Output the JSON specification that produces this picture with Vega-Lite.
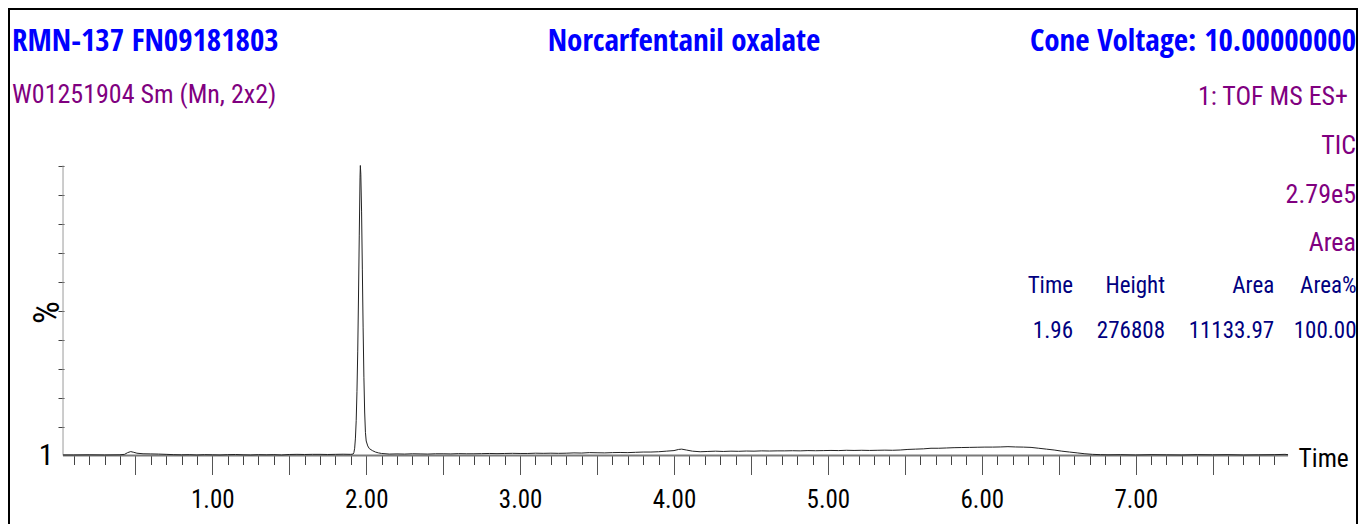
{
  "$schema": "https://vega.github.io/schema/vega-lite/v6.json",
  "width": 1348,
  "height": 520,
  "autosize": {"type": "none"},
  "padding": {"left": 9, "top": 9, "right": 4, "bottom": 0},
  "background": "white",
  "config": {
    "font": "Roboto Condensed",
    "view": {"stroke": "black", "strokeWidth": 2}
  },
  "datasets": {
    "tic": [
      {"time": 0.03, "intensity": 0.2}, {"time": 0.1, "intensity": 0.2}, {"time": 0.2, "intensity": 0.25},
      {"time": 0.3, "intensity": 0.2}, {"time": 0.4, "intensity": 0.25}, {"time": 0.43, "intensity": 0.4},
      {"time": 0.45, "intensity": 1.0}, {"time": 0.47, "intensity": 1.35}, {"time": 0.49, "intensity": 1.1},
      {"time": 0.51, "intensity": 0.8}, {"time": 0.55, "intensity": 0.6}, {"time": 0.6, "intensity": 0.55},
      {"time": 0.65, "intensity": 0.5}, {"time": 0.7, "intensity": 0.4}, {"time": 0.75, "intensity": 0.3},
      {"time": 0.8, "intensity": 0.25}, {"time": 0.85, "intensity": 0.3}, {"time": 0.9, "intensity": 0.2},
      {"time": 0.95, "intensity": 0.3}, {"time": 1.0, "intensity": 0.25}, {"time": 1.05, "intensity": 0.2},
      {"time": 1.1, "intensity": 0.3}, {"time": 1.15, "intensity": 0.35}, {"time": 1.2, "intensity": 0.25},
      {"time": 1.25, "intensity": 0.2}, {"time": 1.3, "intensity": 0.3}, {"time": 1.35, "intensity": 0.25},
      {"time": 1.4, "intensity": 0.3}, {"time": 1.45, "intensity": 0.2}, {"time": 1.5, "intensity": 0.35},
      {"time": 1.55, "intensity": 0.4}, {"time": 1.6, "intensity": 0.35}, {"time": 1.65, "intensity": 0.4},
      {"time": 1.7, "intensity": 0.4}, {"time": 1.75, "intensity": 0.35}, {"time": 1.8, "intensity": 0.4},
      {"time": 1.85, "intensity": 0.45}, {"time": 1.9, "intensity": 0.4}, {"time": 1.915, "intensity": 0.5},
      {"time": 1.92, "intensity": 1.0}, {"time": 1.925, "intensity": 2.5}, {"time": 1.93, "intensity": 6},
      {"time": 1.935, "intensity": 12}, {"time": 1.94, "intensity": 22}, {"time": 1.945, "intensity": 36},
      {"time": 1.95, "intensity": 55}, {"time": 1.955, "intensity": 76}, {"time": 1.96, "intensity": 96},
      {"time": 1.962, "intensity": 100}, {"time": 1.965, "intensity": 97}, {"time": 1.97, "intensity": 84},
      {"time": 1.975, "intensity": 64}, {"time": 1.98, "intensity": 44}, {"time": 1.985, "intensity": 27},
      {"time": 1.99, "intensity": 15}, {"time": 1.995, "intensity": 8}, {"time": 2.0, "intensity": 5},
      {"time": 2.01, "intensity": 3.3}, {"time": 2.02, "intensity": 2.4}, {"time": 2.04, "intensity": 1.7},
      {"time": 2.06, "intensity": 1.2}, {"time": 2.08, "intensity": 0.9}, {"time": 2.1, "intensity": 0.7},
      {"time": 2.15, "intensity": 0.5}, {"time": 2.2, "intensity": 0.55}, {"time": 2.25, "intensity": 0.5},
      {"time": 2.3, "intensity": 0.6}, {"time": 2.35, "intensity": 0.55}, {"time": 2.4, "intensity": 0.5},
      {"time": 2.45, "intensity": 0.6}, {"time": 2.5, "intensity": 0.6}, {"time": 2.55, "intensity": 0.55},
      {"time": 2.6, "intensity": 0.65}, {"time": 2.65, "intensity": 0.6}, {"time": 2.7, "intensity": 0.6},
      {"time": 2.75, "intensity": 0.65}, {"time": 2.8, "intensity": 0.7}, {"time": 2.85, "intensity": 0.65},
      {"time": 2.9, "intensity": 0.7}, {"time": 2.95, "intensity": 0.75}, {"time": 3.0, "intensity": 0.7},
      {"time": 3.05, "intensity": 0.7}, {"time": 3.1, "intensity": 0.8}, {"time": 3.15, "intensity": 0.75},
      {"time": 3.2, "intensity": 0.8}, {"time": 3.25, "intensity": 0.75}, {"time": 3.3, "intensity": 0.8},
      {"time": 3.35, "intensity": 0.9}, {"time": 3.4, "intensity": 0.85}, {"time": 3.45, "intensity": 1.0},
      {"time": 3.5, "intensity": 0.95}, {"time": 3.55, "intensity": 0.9}, {"time": 3.6, "intensity": 1.0},
      {"time": 3.65, "intensity": 1.05}, {"time": 3.7, "intensity": 1.0}, {"time": 3.75, "intensity": 1.1},
      {"time": 3.8, "intensity": 1.2}, {"time": 3.85, "intensity": 1.2}, {"time": 3.9, "intensity": 1.3},
      {"time": 3.95, "intensity": 1.5}, {"time": 4.0, "intensity": 1.7}, {"time": 4.03, "intensity": 2.1},
      {"time": 4.05, "intensity": 2.2}, {"time": 4.08, "intensity": 1.9}, {"time": 4.12, "intensity": 1.5},
      {"time": 4.17, "intensity": 1.3}, {"time": 4.22, "intensity": 1.4}, {"time": 4.27, "intensity": 1.5},
      {"time": 4.32, "intensity": 1.4}, {"time": 4.37, "intensity": 1.5}, {"time": 4.42, "intensity": 1.45},
      {"time": 4.47, "intensity": 1.55}, {"time": 4.52, "intensity": 1.5}, {"time": 4.57, "intensity": 1.6},
      {"time": 4.62, "intensity": 1.55}, {"time": 4.67, "intensity": 1.6}, {"time": 4.72, "intensity": 1.6},
      {"time": 4.77, "intensity": 1.65}, {"time": 4.82, "intensity": 1.6}, {"time": 4.87, "intensity": 1.7},
      {"time": 4.92, "intensity": 1.65}, {"time": 4.97, "intensity": 1.7}, {"time": 5.02, "intensity": 1.75},
      {"time": 5.07, "intensity": 1.7}, {"time": 5.12, "intensity": 1.8}, {"time": 5.17, "intensity": 1.75},
      {"time": 5.22, "intensity": 1.8}, {"time": 5.27, "intensity": 1.75}, {"time": 5.32, "intensity": 1.8},
      {"time": 5.37, "intensity": 1.85}, {"time": 5.42, "intensity": 1.8}, {"time": 5.47, "intensity": 1.9},
      {"time": 5.52, "intensity": 2.1}, {"time": 5.57, "intensity": 2.2}, {"time": 5.62, "intensity": 2.3},
      {"time": 5.67, "intensity": 2.5}, {"time": 5.72, "intensity": 2.5}, {"time": 5.77, "intensity": 2.6},
      {"time": 5.82, "intensity": 2.7}, {"time": 5.87, "intensity": 2.75}, {"time": 5.92, "intensity": 2.8},
      {"time": 5.97, "intensity": 2.85}, {"time": 6.02, "intensity": 2.9}, {"time": 6.07, "intensity": 2.9},
      {"time": 6.12, "intensity": 2.95}, {"time": 6.17, "intensity": 3.05}, {"time": 6.22, "intensity": 2.95},
      {"time": 6.27, "intensity": 2.9}, {"time": 6.32, "intensity": 2.8}, {"time": 6.37, "intensity": 2.5},
      {"time": 6.42, "intensity": 2.2}, {"time": 6.47, "intensity": 1.9}, {"time": 6.52, "intensity": 1.5},
      {"time": 6.57, "intensity": 1.2}, {"time": 6.62, "intensity": 0.9}, {"time": 6.67, "intensity": 0.6},
      {"time": 6.72, "intensity": 0.4}, {"time": 6.77, "intensity": 0.3}, {"time": 6.82, "intensity": 0.25},
      {"time": 6.9, "intensity": 0.3}, {"time": 7.0, "intensity": 0.2}, {"time": 7.1, "intensity": 0.3},
      {"time": 7.2, "intensity": 0.25}, {"time": 7.3, "intensity": 0.2}, {"time": 7.4, "intensity": 0.3},
      {"time": 7.5, "intensity": 0.25}, {"time": 7.6, "intensity": 0.3}, {"time": 7.7, "intensity": 0.2},
      {"time": 7.8, "intensity": 0.25}, {"time": 7.9, "intensity": 0.3}, {"time": 7.97, "intensity": 0.4},
      {"time": 7.99, "intensity": 0.3}
    ]
  },
  "layer": [
    {
      "data": {"name": "tic"},
      "mark": {"type": "rule", "color": "#7a7a7a", "strokeWidth": 2},
      "encoding": {
        "x": {
          "field": "time", "aggregate": "min", "type": "quantitative",
          "scale": {"domain": [-0.321, 8.438], "nice": false, "zero": false},
          "axis": {
            "orient": "bottom", "offset": -73.5, "domain": false, "grid": false,
            "values": [0.1,0.2,0.3,0.4,0.5,0.6,0.7,0.8,0.9,1.0,1.1,1.2,1.3,1.4,1.5,1.6,1.7,1.8,1.9,2.0,2.1,2.2,2.3,2.4,2.5,2.6,2.7,2.8,2.9,3.0,3.1,3.2,3.3,3.4,3.5,3.6,3.7,3.8,3.9,4.0,4.1,4.2,4.3,4.4,4.5,4.6,4.7,4.8,4.9,5.0,5.1,5.2,5.3,5.4,5.5,5.6,5.7,5.8,5.9,6.0,6.1,6.2,6.3,6.4,6.5,6.6,6.7,6.8,6.9,7.0,7.1,7.2,7.3,7.4,7.5,7.6,7.7,7.8,7.9],
            "tickSize": 9, "tickColor": "#444", "tickWidth": 1, "labels": false, "title": null
          }
        },
        "x2": {"field": "time", "aggregate": "max"},
        "y": {"datum": 0, "type": "quantitative", "axis": null}
      }
    },
    {
      "data": {"name": "tic"},
      "mark": {"type": "rule", "color": "#9a9a9a", "strokeWidth": 1},
      "encoding": {
        "x": {"field": "time", "aggregate": "min", "type": "quantitative", "axis": null},
        "y": {"datum": 0, "type": "quantitative", "axis": null},
        "y2": {"datum": 100}
      }
    },
    {
      "data": {"name": "tic"},
      "mark": {"type": "line", "color": "#222222", "strokeWidth": 1, "clip": true},
      "encoding": {
        "x": {
          "field": "time", "type": "quantitative",
          "axis": {
            "orient": "bottom", "offset": -73.5, "domain": false, "grid": false,
            "values": [0.5,1,1.5,2,2.5,3,3.5,4,4.5,5,5.5,6,6.5,7,7.5],
            "tickSize": 19, "tickColor": "#555", "tickWidth": 1,
            "labelExpr": "datum.value % 1 == 0 ? format(datum.value, '.2f') : ''",
            "labelFontSize": 25, "labelColor": "black", "labelPadding": 13, "labelFlush": false, "labelOverlap": false,
            "title": "Time", "titleFontSize": 25.5, "titleFontWeight": "normal", "titleColor": "black",
            "titleX": 1289, "titleY": 10.5, "titleAlign": "left", "titleBaseline": "alphabetic"
          }
        },
        "y": {
          "field": "intensity", "type": "quantitative",
          "scale": {"domain": [-25.34, 153.97], "nice": false, "zero": false},
          "axis": {
            "orient": "left", "offset": -55, "domain": false, "grid": false,
            "values": [0,10,20,30,40,50,60,70,80,90,100],
            "tickSize": 6, "tickWidth": 1,
            "tickColor": {"condition": {"test": "datum.value == 0", "value": "transparent"}, "value": "#444"},
            "labelExpr": "datum.value == 0 ? '1' : ''",
            "labelFontSize": 30, "labelColor": "black", "labelPadding": 5, "labelBaseline": "middle", "labelFlush": false,
            "title": "%", "titleFontSize": 36, "titleFontWeight": "normal", "titleColor": "black",
            "titleAngle": -90, "titleX": -17, "titleY": 303, "titleAlign": "center", "titleBaseline": "middle"
          }
        }
      }
    },
    {
      "data": {"values": [{}]},
      "mark": {"type": "text", "align": "left", "baseline": "alphabetic", "fontSize": 31, "fontWeight": "bold", "color": "#0000ff", "font": "Open Sans Condensed"},
      "encoding": {
        "x": {"datum": -0.3015, "type": "quantitative", "axis": null},
        "y": {"datum": 139.5, "type": "quantitative", "axis": null},
        "text": {"value": "RMN-137 FN09181803"}
      }
    },
    {
      "data": {"values": [{}]},
      "mark": {"type": "text", "align": "left", "baseline": "alphabetic", "fontSize": 26, "color": "#800080"},
      "encoding": {
        "x": {"datum": -0.3015, "type": "quantitative", "axis": null},
        "y": {"datum": 121.5, "type": "quantitative", "axis": null},
        "text": {"value": "W01251904 Sm (Mn, 2x2)"}
      }
    },
    {
      "data": {"values": [{}]},
      "mark": {"type": "text", "align": "center", "baseline": "alphabetic", "fontSize": 31, "fontWeight": "bold", "color": "#0000ff", "font": "Open Sans Condensed"},
      "encoding": {
        "x": {"datum": 4.065, "type": "quantitative", "axis": null},
        "y": {"datum": 139.5, "type": "quantitative", "axis": null},
        "text": {"value": "Norcarfentanil oxalate"}
      }
    },
    {
      "data": {"values": [{}]},
      "mark": {"type": "text", "align": "right", "baseline": "alphabetic", "fontSize": 31, "fontWeight": "bold", "color": "#0000ff", "font": "Open Sans Condensed"},
      "encoding": {
        "x": {"datum": 8.4315, "type": "quantitative", "axis": null},
        "y": {"datum": 139.5, "type": "quantitative", "axis": null},
        "text": {"value": "Cone Voltage: 10.00000000"}
      }
    },
    {
      "data": {"values": [{}]},
      "mark": {"type": "text", "align": "right", "baseline": "alphabetic", "fontSize": 26, "color": "#800080"},
      "encoding": {
        "x": {"datum": 8.3795, "type": "quantitative", "axis": null},
        "y": {"datum": 120.9, "type": "quantitative", "axis": null},
        "text": {"value": "1: TOF MS ES+"}
      }
    },
    {
      "data": {"values": [{}]},
      "mark": {"type": "text", "align": "right", "baseline": "alphabetic", "fontSize": 26, "color": "#800080", "lineHeight": 48.5},
      "encoding": {
        "x": {"datum": 8.4315, "type": "quantitative", "axis": null},
        "y": {"datum": 103.97, "type": "quantitative", "axis": null},
        "text": {"value": ["TIC", "2.79e5", "Area"]}
      }
    },
    {
      "data": {"values": [{}]},
      "mark": {"type": "text", "align": "right", "baseline": "alphabetic", "fontSize": 23, "color": "#000080", "lineHeight": 45},
      "encoding": {
        "x": {"datum": 6.5926, "type": "quantitative", "axis": null},
        "y": {"datum": 56.0, "type": "quantitative", "axis": null},
        "text": {"value": ["Time", "1.96"]}
      }
    },
    {
      "data": {"values": [{}]},
      "mark": {"type": "text", "align": "right", "baseline": "alphabetic", "fontSize": 23, "color": "#000080", "lineHeight": 45},
      "encoding": {
        "x": {"datum": 7.1904, "type": "quantitative", "axis": null},
        "y": {"datum": 56.0, "type": "quantitative", "axis": null},
        "text": {"value": ["Height", "276808"]}
      }
    },
    {
      "data": {"values": [{}]},
      "mark": {"type": "text", "align": "right", "baseline": "alphabetic", "fontSize": 23, "color": "#000080", "lineHeight": 45},
      "encoding": {
        "x": {"datum": 7.9, "type": "quantitative", "axis": null},
        "y": {"datum": 56.0, "type": "quantitative", "axis": null},
        "text": {"value": ["Area", "11133.97"]}
      }
    },
    {
      "data": {"values": [{}]},
      "mark": {"type": "text", "align": "right", "baseline": "alphabetic", "fontSize": 23, "color": "#000080", "lineHeight": 45},
      "encoding": {
        "x": {"datum": 8.435, "type": "quantitative", "axis": null},
        "y": {"datum": 56.0, "type": "quantitative", "axis": null},
        "text": {"value": ["Area%", "100.00"]}
      }
    }
  ],
  "resolve": {"axis": {"x": "independent", "y": "independent"}}
}
